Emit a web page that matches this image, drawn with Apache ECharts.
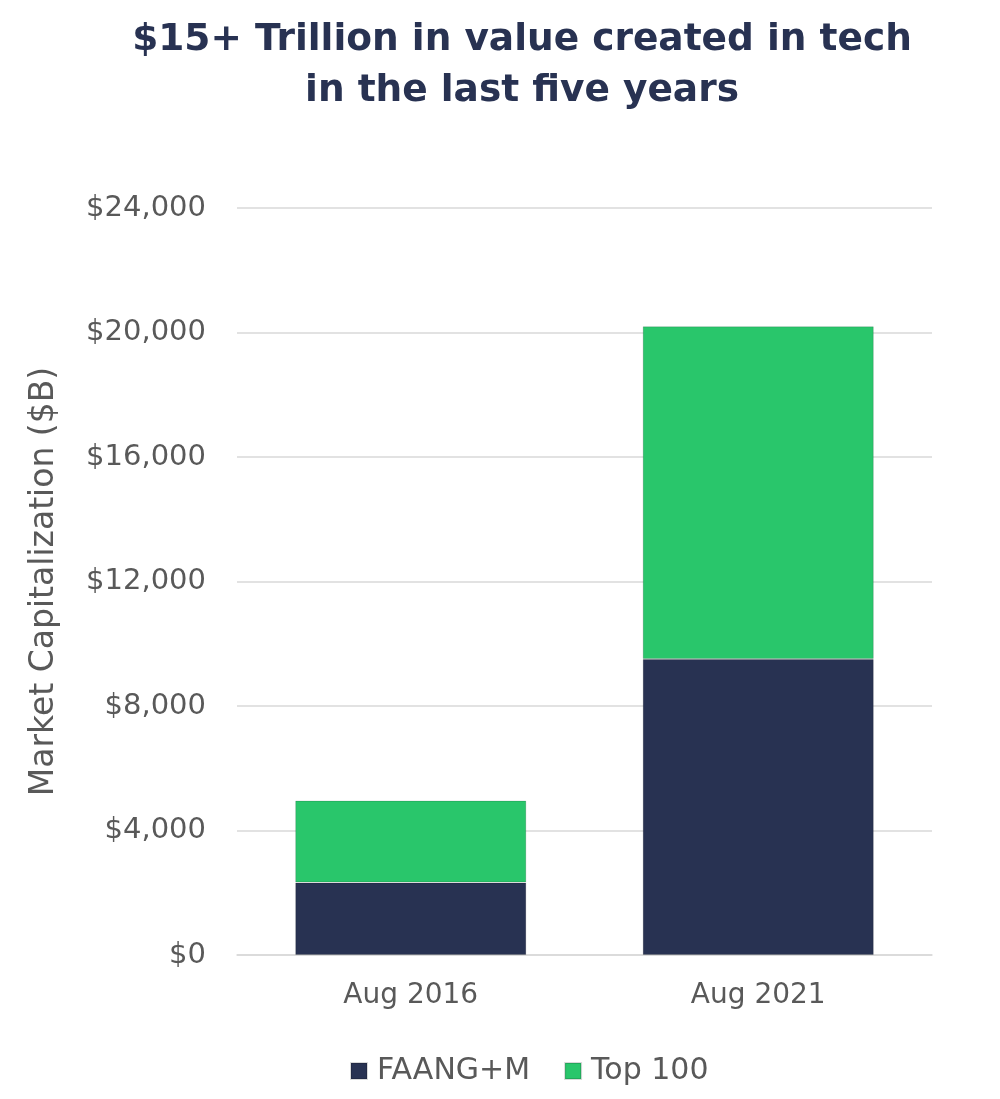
<!DOCTYPE html>
<html>
<head>
<meta charset="utf-8">
<script src="https://cdn.jsdelivr.net/npm/echarts@6/dist/echarts.min.js"></script>
<style>
  html, body { margin: 0; padding: 0; background: #fff; }
  #main { width: 1000px; height: 1099px; }
</style>
</head>
<body>
<div id="main"></div>
<script>
var categories = ['Aug 2016', 'Aug 2021'];
var faangValues = [2330, 9510];
var top100Values = [2630, 10690];
var yTicks = [0, 4000, 8000, 12000, 16000, 20000, 24000];

var chart = echarts.init(document.getElementById('main'));

var labelFont = 'DejaVu Sans';

var option = {
  backgroundColor: '#fff',
  title: {
    text: '$15+ Trillion in value created in tech\nin the last five years',
    left: 517,
    top: 10,
    textAlign: 'center',
    textStyle: {
      fontFamily: 'DejaVu Sans',
      fontWeight: 'bold',
      fontSize: 37.5,
      lineHeight: 51,
      color: '#283252'
    }
  },
  color: ['#283252', '#29c66b'],
  legend: {
    data: ['FAANG+M', 'Top 100'],
    bottom: 8,
    left: 345,
    icon: 'rect',
    itemWidth: 16,
    itemHeight: 16,
    itemGap: 34,
    textStyle: {
      fontFamily: labelFont,
      fontSize: 30,
      color: '#595959',
      padding: [0, 0, 0, 5]
    }
  },
  grid: {
    left: 237,
    right: 68,
    top: 208,
    bottom: 144
  },
  xAxis: {
    type: 'category',
    data: categories,
    axisTick: { show: false },
    axisLine: { lineStyle: { color: '#d9d9d9', width: 1.5 } },
    axisLabel: {
      margin: 27,
      fontFamily: labelFont,
      fontSize: 28,
      color: '#595959'
    }
  },
  yAxis: {
    type: 'value',
    min: yTicks[0],
    max: yTicks[yTicks.length - 1],
    interval: 4000,
    name: 'Market Capitalization ($B)',
    nameLocation: 'middle',
    nameGap: 176,
    nameRotate: 90,
    nameTextStyle: {
      fontFamily: labelFont,
      fontSize: 33,
      color: '#595959'
    },
    axisLine: { show: false },
    axisTick: { show: false },
    splitLine: { lineStyle: { color: '#d9d9d9', width: 1.5 } },
    axisLabel: {
      margin: 31,
      fontFamily: labelFont,
      fontSize: 29,
      color: '#595959',
      formatter: function (v) {
        return '$' + v.toLocaleString('en-US');
      }
    }
  },
  series: [{
    name: 'FAANG+M',
    type: 'bar',
    stack: 'total',
    barWidth: '66.5%',
    data: faangValues,
    itemStyle: { borderColor: 'rgba(0,0,0,0.15)', borderWidth: 1 }
  }, {
    name: 'Top 100',
    type: 'bar',
    stack: 'total',
    barWidth: '66.5%',
    data: top100Values,
    itemStyle: { borderColor: 'rgba(0,0,0,0.15)', borderWidth: 1 }
  }]
};

chart.setOption(option);
</script>
</body>
</html>
